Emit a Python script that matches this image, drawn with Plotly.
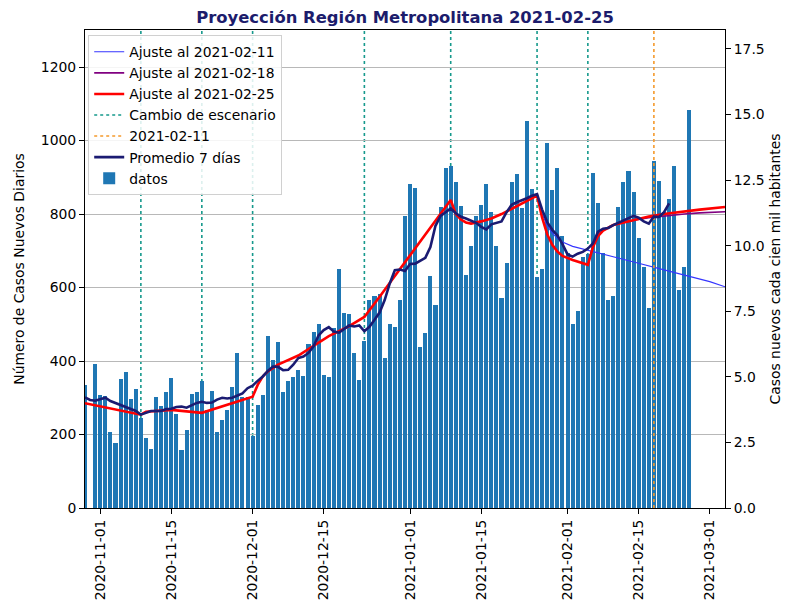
import pandas as pd
import plotly.graph_objects as go

# ---------------- data ----------------
start_date = "2020-10-29"

# daily new cases, 2020-10-29 .. 2021-02-25 (None = no bar)
bar_values = [
    335, None, 393,
    308, 306, 208, 177, 350, 370, 298, 325, 246, 190, 160, 302, 277, 316, 353,
    255, 159, 212, 310, 316, 346, 266, 319, 206, 240, 267, 330, 423, 303, 303,
    196, 279, 307, 468, 402, 451, 317, 345, 356, 375, 358, 445, 480, 501, 362,
    356, 491, 650, 530, 528, 421, 348, 455, 566, 577, 582, 407, 501, 493, 566, 794,
    883, 871, 438, 476, 632, 553, 818, 925, 932, 886, 823, 635, 712, 795, 824,
    881, 805, 713, 572, 666, 887, 908, 817, 1053, 868, 628, 650, 994, 865, 925, 741,
    695, 502, 535, 684, 690, 911, 829, 694, 567, 577, 818, 888, 916, 861, 736,
    655, 545, 943, 891, 805, 840, 931, 593, 657, 1084,
]

# 7-day average, 2020-10-29 .. 2021-02-21
avg_values = [
    301, 294, 292,
    297, 300, 291, 286, 280, 275, 271, 264, 254, 260, 264, 264, 264, 269, 270,
    275, 276, 273, 279, 286, 289, 286, 287, 295, 300, 298, 300, 305, 312, 326,
    333, 346, 358, 373, 385, 384, 375, 376, 390, 408, 412, 422, 440, 470, 484,
    492, 480, 477, 488, 497, 494, 497, 481, 493, 512, 532, 566, 611, 647, 649, 645,
    664, 665, 673, 681, 710, 768, 795, 805, 815, 802, 793, 788, 781, 776, 765,
    758, 772, 775, 780, 805, 825, 832, 837, 843, 850, 854, 812, 778, 757, 742, 718,
    690, 684, 692, 697, 706, 720, 752, 760, 762, 770, 776, 782, 789, 795, 790,
    780, 774, 793, 792, 805, 829,
]

# fit "Ajuste al 2021-02-25"
fit25_dates = [
    "2020-10-29", "2020-11-09", "2020-11-10", "2020-11-15", "2020-11-21", "2020-11-26",
    "2020-12-01", "2020-12-02", "2020-12-03", "2020-12-04", "2020-12-06", "2020-12-10",
    "2020-12-16", "2020-12-20", "2020-12-23", "2020-12-26", "2020-12-30", "2021-01-02",
    "2021-01-05", "2021-01-09", "2021-01-10", "2021-01-11", "2021-01-12", "2021-01-13",
    "2021-01-15", "2021-01-17", "2021-01-19", "2021-01-21", "2021-01-23", "2021-01-25",
    "2021-01-26", "2021-01-27", "2021-01-28", "2021-01-29", "2021-01-30", "2021-01-31",
    "2021-02-02", "2021-02-05", "2021-02-06", "2021-02-07", "2021-02-08", "2021-02-10",
    "2021-02-14", "2021-02-17", "2021-02-20", "2021-02-24", "2021-02-27", "2021-03-04",
]
fit25_values = [
    285, 254, 262, 267, 259, 282,
    303, 335, 358, 372, 390, 415,
    468, 495, 520, 575, 650, 709,
    765, 838, 800, 785, 777, 774,
    780, 788, 800, 814, 828, 842,
    850, 790, 745, 716, 698, 686,
    675, 662, 710, 740, 755, 770,
    784, 793, 800, 807, 812, 819,
]

# fit "Ajuste al 2021-02-18" (visible part)
fit18_dates = ["2021-02-05", "2021-02-06", "2021-02-07", "2021-02-08", "2021-02-10",
               "2021-02-14", "2021-02-17", "2021-02-20", "2021-02-24", "2021-02-27",
               "2021-03-04"]
fit18_values = [662, 712, 742, 756, 770, 783, 790, 795, 800, 803, 806]

# fit "Ajuste al 2021-02-11" (visible part)
fit11_dates = ["2021-01-26", "2021-01-27", "2021-01-28", "2021-01-29", "2021-01-30",
               "2021-01-31", "2021-02-02", "2021-02-05", "2021-02-10", "2021-02-15",
               "2021-02-20", "2021-02-25", "2021-03-01", "2021-03-04"]
fit11_values = [850, 800, 768, 748, 734, 724, 712, 701, 684, 666, 648, 630, 616, 602]

scenario_dates = ["2020-11-09", "2020-11-21", "2020-12-01", "2020-12-23",
                  "2021-01-09", "2021-01-26", "2021-02-05"]
marker_dates = ["2021-02-18"]

x_ticks = ["2020-11-01", "2020-11-15", "2020-12-01", "2020-12-15", "2021-01-01",
           "2021-01-15", "2021-02-01", "2021-02-15", "2021-03-01"]
y_ticks = [0, 200, 400, 600, 800, 1000, 1200]
y2_ticks = [0.0, 2.5, 5.0, 7.5, 10.0, 12.5, 15.0, 17.5]

x_range = ["2020-10-29", "2021-03-04"]
Y_MAX = 1300.8
POPULATION = 7139000

# ---------------- figure ----------------
bar_dates = pd.date_range(start_date, periods=len(bar_values), freq="D")
avg_dates = pd.date_range(start_date, periods=len(avg_values), freq="D")
y2_max = Y_MAX * 1e5 / POPULATION

FONT = "DejaVu Sans"
FS = 13.9
TEAL = "#16998c"
ORANGE = "#f59a2c"

fig = go.Figure()

fig.add_trace(go.Bar(
    x=bar_dates, y=bar_values, name="datos", marker=dict(color="#1f77b4", line=dict(width=0)),
    width=0.8 * 86400000, yaxis="y", legendrank=7, hoverinfo="x+y",
))

# invisible trace for right axis (cases per 100k)
fig.add_trace(go.Scatter(
    x=bar_dates, y=[None if v is None else v * 1e5 / POPULATION for v in bar_values],
    mode="lines", line=dict(width=0), opacity=0, showlegend=False, hoverinfo="skip",
    yaxis="y2",
))

fig.add_trace(go.Scatter(
    x=fit11_dates, y=fit11_values, mode="lines", name="Ajuste al 2021-02-11",
    line=dict(color="#3535ff", width=1.1), yaxis="y3", legendrank=1,
))
fig.add_trace(go.Scatter(
    x=fit18_dates, y=fit18_values, mode="lines", name="Ajuste al 2021-02-18",
    line=dict(color="#800080", width=1.6), yaxis="y3", legendrank=2,
))
fig.add_trace(go.Scatter(
    x=fit25_dates, y=fit25_values, mode="lines", name="Ajuste al 2021-02-25",
    line=dict(color="#ff0000", width=2.6), yaxis="y3", legendrank=3,
))
# legend entry for scenario lines (drawn as shapes below the bars)
fig.add_trace(go.Scatter(
    x=[None], y=[None], mode="lines", name="Cambio de escenario",
    line=dict(color=TEAL, width=1.6, dash="dot"), yaxis="y3", legendrank=4,
))
ox, oy = [], []
for d in marker_dates:
    ox += [d, d, None]
    oy += [0, Y_MAX, None]
fig.add_trace(go.Scatter(
    x=ox, y=oy, mode="lines", name="2021-02-11",
    line=dict(color=ORANGE, width=1.6, dash="dot"), yaxis="y3", legendrank=5,
))
fig.add_trace(go.Scatter(
    x=avg_dates, y=avg_values, mode="lines", name="Promedio 7 días",
    line=dict(color="#1b1b72", width=2.6), yaxis="y3", legendrank=6,
))

shapes = []
for d in scenario_dates:
    shapes.append(dict(type="line", xref="x", yref="paper", x0=d, x1=d, y0=0, y1=1,
                       line=dict(color=TEAL, width=1.6, dash="dot"), layer="below"))

axis_common = dict(showline=True, linecolor="black", linewidth=1, ticks="outside",
                   ticklen=5, tickcolor="black", tickfont=dict(family=FONT, size=FS, color="black"),
                   zeroline=False, automargin=False)

# the page puts the figure 8 px from the top-left corner
fig.update_layout(
    width=789, height=596,
    margin=dict(l=77, r=72, t=22, b=96),
    paper_bgcolor="white", plot_bgcolor="white",
    font=dict(family=FONT, size=FS, color="black"),
    title=dict(text="<b>Proyección Región Metropolitana 2021-02-25</b>",
               x=0.5, xref="paper", xanchor="center", y=0.984, yref="container",
               yanchor="middle", font=dict(family=FONT, size=16.4, color="#1c1c6c")),
    showlegend=True,
    legend=dict(x=0.005, y=0.989, xanchor="left", yanchor="top",
                bgcolor="rgba(255,255,255,0.85)", bordercolor="#d0d0d0", borderwidth=1,
                font=dict(family=FONT, size=FS, color="black"), traceorder="normal",
                tracegroupgap=0),
    bargap=0,
    xaxis=dict(type="date", range=x_range, tickvals=x_ticks, ticktext=x_ticks,
               tickangle=-90, mirror=True, showgrid=False, **axis_common),
    yaxis=dict(range=[0, Y_MAX], tickvals=y_ticks, showgrid=False,
               title=dict(text="Número de Casos Nuevos Diarios", standoff=12,
                          font=dict(family=FONT, size=FS, color="black")),
               **axis_common),
    yaxis2=dict(overlaying="y", side="right", range=[0, y2_max], tickvals=y2_ticks,
                tickformat=".1f", showgrid=False,
                title=dict(text="Casos nuevos cada cien mil habitantes", standoff=6,
                           font=dict(family=FONT, size=FS, color="black")),
                **axis_common),
    yaxis3=dict(overlaying="y", side="left", range=[0, Y_MAX], tickvals=y_ticks,
                showticklabels=False, showline=False, ticks="", zeroline=False,
                showgrid=True, gridcolor="#b8b8b8", gridwidth=1),
    shapes=shapes,
)

fig.write_html("out.html")
